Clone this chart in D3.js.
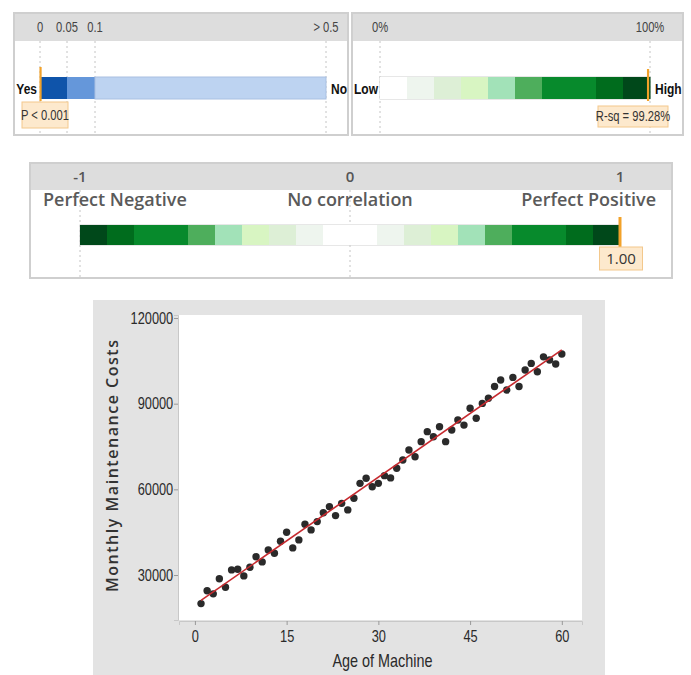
<!DOCTYPE html>
<html>
<head>
<meta charset="utf-8">
<script src="https://cdn.jsdelivr.net/npm/d3@7"></script>
<style>
  body { margin: 0; background: #fff; }
  svg { display: block; }
  .narrow { font-family: "Liberation Sans", Arimo, sans-serif; }
  .open { font-family: "Open Sans", "DejaVu Sans", sans-serif; }
</style>
</head>
<body>
<svg id="chart" width="691" height="675"></svg>
<script>
// ---- data ----
var pBreaks = [0, 0.05, 0.1, 0.5];
var pTickLabels = ["0", "0.05", "0.1", "> 0.5"];
var pValue = 0.001;
var pLabel = "P < 0.001";

var rsqBins = [0, 10, 20, 30, 40, 50, 60, 70, 80, 90, 100];
var rsqTicks = [0, 100];
var rsqTickLabels = ["0%", "100%"];
var rsqValue = 99.28;
var rsqLabel = "R-sq = 99.28%";

var corrBins = [-1, -0.9, -0.8, -0.7, -0.6, -0.5, -0.4, -0.3, -0.2, -0.1, 0,
                0.1, 0.2, 0.3, 0.4, 0.5, 0.6, 0.7, 0.8, 0.9, 1];
var corrTicks = [-1, 0, 1];
var corrTickLabels = ["-1", "0", "1"];
var corrNames = ["Perfect Negative", "No correlation", "Perfect Positive"];
var corrValue = 1.00;

var ages = [1, 2, 3, 4, 5, 6, 7, 8, 9, 10, 11, 12, 13, 14, 15, 16, 17, 18, 19, 20,
            21, 22, 23, 24, 25, 26, 27, 28, 29, 30, 31, 32, 33, 34, 35, 36, 37, 38, 39, 40,
            41, 42, 43, 44, 45, 46, 47, 48, 49, 50, 51, 52, 53, 54, 55, 56, 57, 58, 59, 60];
var costs = [20000, 24500, 23400, 28700, 25700, 31800, 32000, 29700, 32700, 36400,
             34600, 38800, 37600, 41800, 45000, 39500, 42300, 47800, 45800, 48700,
             51800, 53900, 50800, 55100, 52800, 56900, 62100, 63900, 60900, 62100,
             64800, 64000, 67400, 70300, 73800, 71400, 76700, 80200, 78400, 81900,
             76700, 80800, 84300, 82500, 88400, 84900, 90100, 91900, 96000, 98300,
             94800, 99200, 96000, 101800, 104100, 101200, 106400, 105300, 103900, 107400];
var ageTicks = [0, 15, 30, 45, 60];
var costTicks = [30000, 60000, 90000, 120000];

// ---- styles ----
var blues = ["#0f54aa", "#6597da", "#bdd3f1"];
// green shade by |value| in tenths (0 .. 0.9)
var greens = ["#ffffff", "#eef5ee", "#ddefd6", "#d8f5c2", "#a2e2b8",
              "#4eae5c", "#078a2c", "#078a2c", "#006c1d", "#00481a"];
var orange = "#f2a22a";
var squeeze = 0.8;   // condensed look for the Minitab-style labels

var svg = d3.select("#chart");

// condensed text: drawn at (x, y) then squeezed horizontally
function narrowText(x, y, str, anchor, size, weight, fill) {
    return svg.append("text")
        .attr("class", "narrow")
        .attr("transform", "translate(" + x + "," + y + ") scale(" + squeeze + ",1)")
        .attr("text-anchor", anchor)
        .style("font-size", size + "px")
        .style("font-weight", weight)
        .attr("fill", fill)
        .text(str);
}

function panel(x0, y0, x1, y1, headerH) {
    svg.append("rect")
        .attr("x", x0).attr("y", y0)
        .attr("width", x1 - x0).attr("height", y1 - y0)
        .attr("fill", "#fff").attr("stroke", "#cfcfcf").attr("stroke-width", 2);
    svg.append("rect")
        .attr("x", x0 + 1).attr("y", y0 + 1)
        .attr("width", x1 - x0 - 2).attr("height", headerH)
        .attr("fill", "#dddddd");
}

function guide(x, y0, y1) {
    svg.append("line")
        .attr("x1", x).attr("x2", x).attr("y1", y0).attr("y2", y1)
        .attr("stroke", "#c4c4c4").attr("stroke-dasharray", "2,3");
}

function markerLine(x, y0, y1, w) {
    svg.append("line")
        .attr("x1", x).attr("x2", x).attr("y1", y0).attr("y2", y1)
        .attr("stroke", orange).attr("stroke-width", w);
}

function labelBox(cx, by, bw, bh) {
    svg.append("rect")
        .attr("x", cx - bw / 2).attr("y", by)
        .attr("width", bw).attr("height", bh)
        .attr("fill", "#fde9cd").attr("stroke", "#f3c88c");
}

// ---- p-value panel ----
(function() {
    panel(14, 13, 348, 135, 27);
    var x = d3.scaleLinear().domain(pBreaks).range([40, 67, 95, 326]);

    pBreaks.forEach(function(b) { guide(x(b), 41, 134); });
    pBreaks.forEach(function(b, i) {
        narrowText(x(b), 32, pTickLabels[i], "middle", 14, "normal", "#444");
    });

    svg.selectAll(".pseg").data(d3.pairs(pBreaks)).enter().append("rect")
        .attr("x", function(d) { return x(d[0]); })
        .attr("width", function(d) { return x(d[1]) - x(d[0]); })
        .attr("y", 77).attr("height", 22)
        .attr("fill", function(d, i) { return blues[i]; })
        .attr("stroke", function(d, i) { return i == 2 ? "#a9c0e2" : "none"; });

    narrowText(37, 94, "Yes", "end", 15, "bold", "#111");
    narrowText(331, 94, "No", "start", 15, "bold", "#111");

    markerLine(x(pValue), 67, 101, 2.2);
    labelBox(45, 102, 46, 26);
    narrowText(45, 120, pLabel, "middle", 14, "normal", "#333");
})();

// ---- R-sq panel ----
(function() {
    panel(352, 13, 683, 135, 27);
    var x = d3.scaleLinear().domain([0, 100]).range([380, 650]);

    rsqTicks.forEach(function(t) { guide(x(t), 41, 134); });
    rsqTicks.forEach(function(t, i) {
        narrowText(x(t), 32, rsqTickLabels[i], "middle", 14, "normal", "#444");
    });

    svg.append("rect")
        .attr("x", x(0)).attr("y", 77).attr("width", x(100) - x(0)).attr("height", 22)
        .attr("fill", "none").attr("stroke", "#cfcfcf");

    svg.selectAll(".rseg").data(d3.pairs(rsqBins)).enter().append("rect")
        .attr("x", function(d) { return x(d[0]); })
        .attr("width", function(d) { return x(d[1]) - x(d[0]) + 0.5; })
        .attr("y", 77).attr("height", 22)
        .attr("fill", function(d) { return greens[Math.round(d[0] / 10)]; });

    narrowText(378, 94, "Low", "end", 15, "bold", "#111");
    narrowText(655, 94, "High", "start", 15, "bold", "#111");

    markerLine(x(rsqValue), 69, 101, 2.2);
    labelBox(633, 106, 70, 21);
    narrowText(633, 121, rsqLabel, "middle", 14, "normal", "#333");
})();

// ---- correlation panel ----
(function() {
    panel(30, 163, 672, 278, 26);
    var x = d3.scaleLinear().domain([-1, 1]).range([80, 620]);

    guide(x(-1), 190, 277);
    guide(x(0), 190, 277);

    svg.selectAll(".ctick").data(corrTicks).enter().append("text")
        .attr("class", "open")
        .attr("x", function(d) { return x(d); })
        .attr("y", 182)
        .attr("text-anchor", "middle")
        .style("font-size", "15px").style("font-weight", 600)
        .attr("fill", "#555")
        .text(function(d, i) { return corrTickLabels[i]; });

    var nameX = [43, x(0), 656];
    var nameAnchor = ["start", "middle", "end"];
    svg.selectAll(".cname").data(corrNames).enter().append("text")
        .attr("class", "open")
        .attr("x", function(d, i) { return nameX[i]; })
        .attr("y", 206)
        .attr("text-anchor", function(d, i) { return nameAnchor[i]; })
        .style("font-size", "18px").style("font-weight", 600)
        .attr("fill", "#5a5a5a")
        .text(function(d) { return d; });

    svg.append("rect")
        .attr("x", x(-1)).attr("y", 225).attr("width", x(1) - x(-1)).attr("height", 20)
        .attr("fill", "none").attr("stroke", "#d0d0d0");

    svg.selectAll(".cseg").data(d3.pairs(corrBins)).enter().append("rect")
        .attr("x", function(d) { return x(d[0]); })
        .attr("width", function(d) { return x(d[1]) - x(d[0]) + 0.5; })
        .attr("y", 225).attr("height", 20)
        .attr("fill", function(d) {
            var m = Math.min(Math.abs(d[0]), Math.abs(d[1]));
            return greens[Math.round(m * 10)];
        });

    markerLine(x(corrValue), 217, 252, 3);
    labelBox(621, 247, 43, 23);
    svg.append("text").attr("class", "open")
        .attr("x", 621).attr("y", 264)
        .attr("text-anchor", "middle")
        .style("font-size", "15px")
        .attr("fill", "#333")
        .text(d3.format(".2f")(corrValue));
})();

// ---- scatter plot ----
(function() {
    svg.append("rect")
        .attr("x", 93).attr("y", 300).attr("width", 512).attr("height", 375)
        .attr("fill", "#e3e3e3");

    var left = 179, right = 582, top = 315, bottom = 620;
    svg.append("rect")
        .attr("x", left).attr("y", top).attr("width", right - left).attr("height", bottom - top)
        .attr("fill", "#fff");

    var x = d3.scaleLinear().domain([-2.6, 63.3]).range([left, right]);
    var y = d3.scaleLinear().domain([14250, 121050]).range([bottom, top]);

    var gx = svg.append("g").attr("transform", "translate(0," + (bottom + 1) + ")")
        .call(d3.axisBottom(x).tickValues(ageTicks).tickSize(4).tickPadding(6));
    var gy = svg.append("g").attr("transform", "translate(" + (left - 1) + ",0)")
        .call(d3.axisLeft(y).tickValues(costTicks).tickSize(4).tickPadding(2).tickFormat(d3.format("d")));

    [gx, gy].forEach(function(g) {
        g.selectAll("path").attr("stroke", "#c8c8c8");
        g.selectAll("line").attr("stroke", "#999");
        g.selectAll("text").attr("class", "narrow")
            .attr("transform", "scale(" + squeeze + ",1)")
            .style("font-size", "16px").attr("fill", "#2a2a2a");
    });

    // least squares fit line
    var mx = d3.mean(ages), my = d3.mean(costs);
    var sxy = d3.sum(ages, function(a, i) { return (a - mx) * (costs[i] - my); });
    var sxx = d3.sum(ages, function(a) { return (a - mx) * (a - mx); });
    var slope = sxy / sxx, icpt = my - slope * mx;
    var ext = d3.extent(ages);

    svg.append("g").selectAll("circle").data(ages).enter().append("circle")
        .attr("cx", function(d) { return x(d); })
        .attr("cy", function(d, i) { return y(costs[i]); })
        .attr("r", 3.7)
        .attr("fill", "#2a2a2a");

    svg.append("line")
        .attr("x1", x(ext[0])).attr("y1", y(icpt + slope * ext[0]))
        .attr("x2", x(ext[1])).attr("y2", y(icpt + slope * ext[1]))
        .attr("stroke", "#c62a2f").attr("stroke-width", 1.6);

    narrowText((left + right) / 2 + 2, 667, "Age of Machine", "middle", 18, "normal", "#2a2a2a");

    svg.append("text").attr("class", "open")
        .attr("transform", "translate(118," + 466 + ") rotate(-90)")
        .attr("text-anchor", "middle")
        .attr("textLength", 252).attr("lengthAdjust", "spacing")
        .style("font-size", "16px").style("font-weight", 600).attr("fill", "#333")
        .text("Monthly Maintenance Costs");
})();
</script>
</body>
</html>
